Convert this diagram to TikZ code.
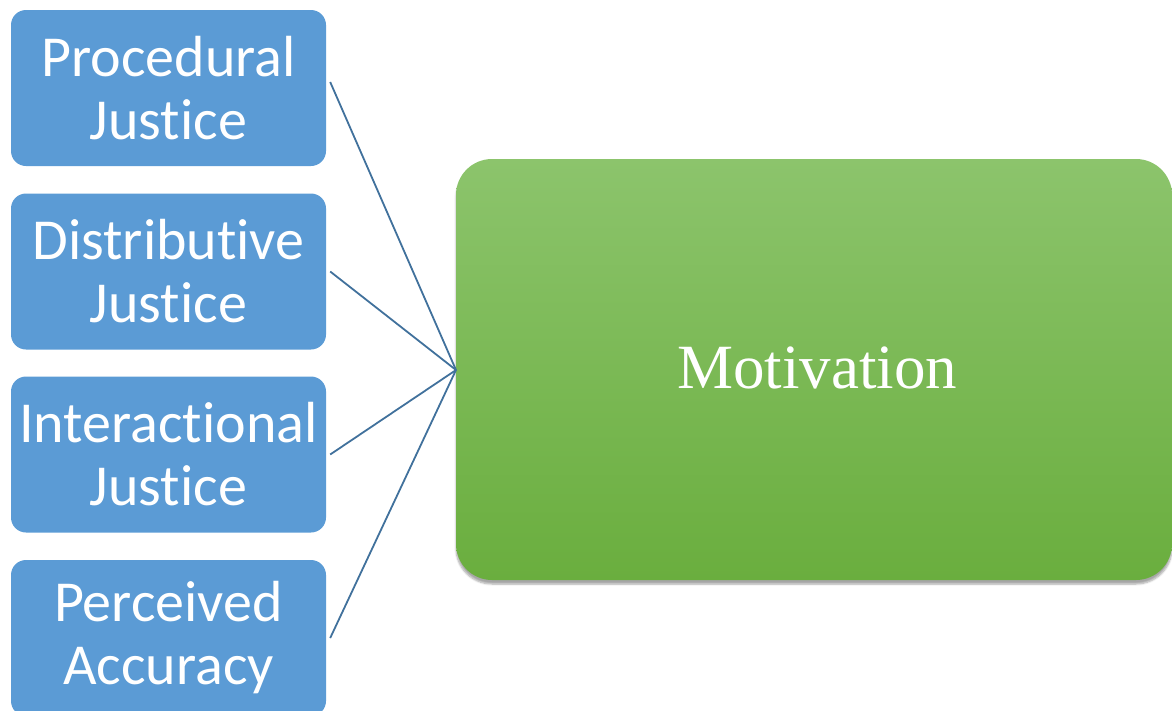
\documentclass[tikz,border=0pt]{standalone}
\usepackage{fontspec}
\setmainfont{Liberation Serif}
\newfontfamily\boxfont[Ligatures={NoCommon}]{Carlito}
\usetikzlibrary{shadows.blur}
\definecolor{boxblue}{HTML}{5B9BD5}
\definecolor{linkblue}{HTML}{41719C}
\definecolor{greentop}{HTML}{8CC46C}
\definecolor{greenbot}{HTML}{6AAE3E}
\begin{document}
\begin{tikzpicture}[x=1pt,y=-1pt,
  factor/.style={rectangle, rounded corners=15pt, fill=boxblue,
    minimum width=315pt, minimum height=156pt, inner sep=0pt,
    align=center, text=white, font=\boxfont\fontsize{58}{63}\selectfont},
  target/.style={rectangle, rounded corners=36pt, top color=greentop, bottom color=greenbot,
    minimum width=716pt, minimum height=421pt, inner sep=0pt,
    text=white, font=\fontsize{63}{70}\selectfont,
    blur shadow={shadow xshift=0pt, shadow yshift=-4pt, shadow blur steps=6, shadow opacity=35}},
  link/.style={draw=linkblue, line width=1.8pt}]
\useasboundingbox (0,0) rectangle (1172,710);
\begin{scope}
\clip (0,0) rectangle (1172,710);
\node[factor] (proc) at (168.5,88) {Procedural\\Justice};
\node[factor] (dist) at (168.5,271.5) {Distributive\\Justice};
\node[factor] (inter) at (168.5,454.5) {Interactional\\Justice};
\node[factor] (perc) at (168.5,638) {Perceived\\Accuracy};
\node[target] (mot) at (814,369.5) {};
\node[text=white, font=\fontsize{63}{70}\selectfont] (motlabel) at (817,368) {Motivation};
\coordinate (hub) at (456,370);
\draw[link] ([xshift=4pt,yshift=6pt]proc.east) -- (hub);
\draw[link] ([xshift=4pt]dist.east) -- (hub);
\draw[link] ([xshift=4pt]inter.east) -- (hub);
\draw[link] ([xshift=4pt]perc.east) -- (hub);
\end{scope}
\end{tikzpicture}
\end{document}
